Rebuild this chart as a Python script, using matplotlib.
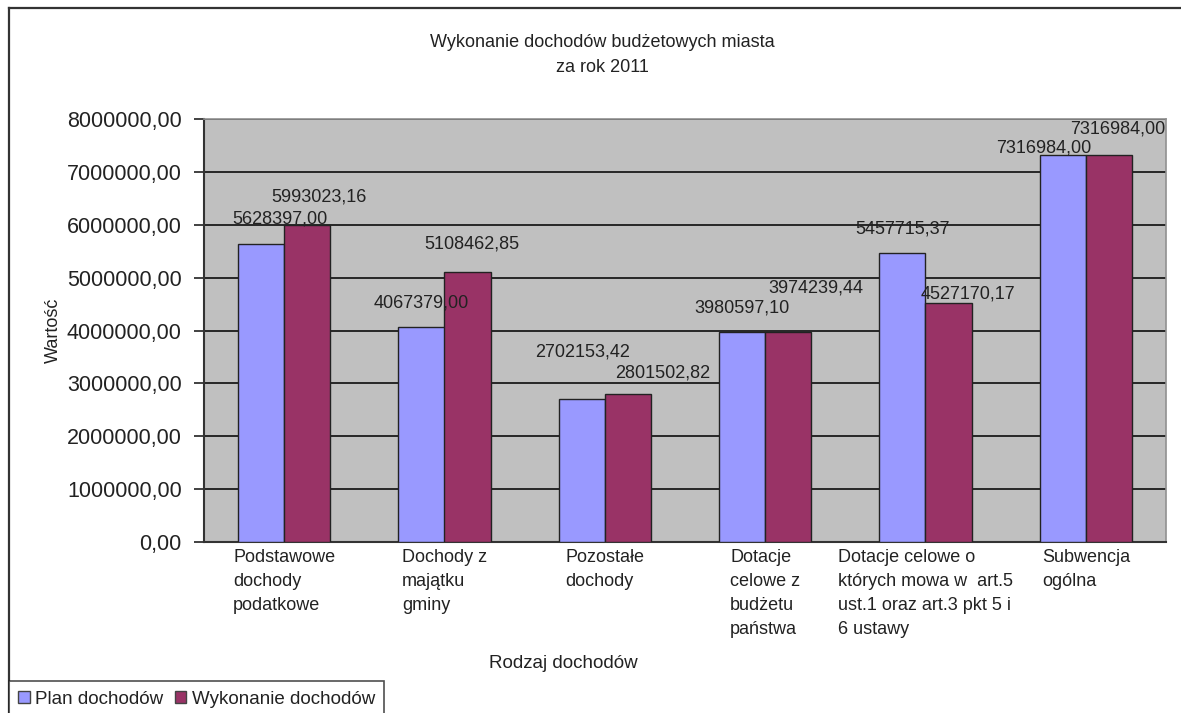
import matplotlib
matplotlib.use("Agg")
import matplotlib.pyplot as plt
from matplotlib.patches import Patch
from matplotlib.lines import Line2D

plt.rcParams['font.family'] = ['Liberation Sans', 'DejaVu Sans']

# ---- data ----
categories = [
    "Podstawowe\ndochody\npodatkowe",
    "Dochody z\nmajątku\ngminy",
    "Pozostałe\ndochody",
    "Dotacje\ncelowe z\nbudżetu\npaństwa",
    "Dotacje celowe o\nktórych mowa w  art.5\nust.1 oraz art.3 pkt 5 i\n6 ustawy",
    "Subwencja\nogólna",
]
plan = [5628397.00, 4067379.00, 2702153.42, 3980597.10, 5457715.37, 7316984.00]
wykonanie = [5993023.16, 5108462.85, 2801502.82, 3974239.44, 4527170.17, 7316984.00]
series_names = ["Plan dochodów", "Wykonanie dochodów"]
title = "Wykonanie dochodów budżetowych miasta\nza rok 2011"
yticks = [0, 1000000, 2000000, 3000000, 4000000, 5000000, 6000000, 7000000, 8000000]

# label offsets (pixels) mimicking the original label placement
plan_off = [(19, 25), (0, 24), (1, 47), (0, 24), (0, 24), (-19, 7)]
wyk_off = [(12, 28), (4, 28), (35, 21), (28, 44), (19, 9), (9, 26)]

c_plan = "#9999FF"
c_wyk = "#993366"

fig = plt.figure(figsize=(11.81, 7.13), dpi=100)
fig.patch.set_facecolor("white")
ax = fig.add_axes([204 / 1181, 1 - 542 / 713, (1166 - 204) / 1181, (542 - 119) / 713])
ax.set_facecolor("#C0C0C0")

w = 0.287
x = list(range(len(categories)))
xp = [i - w / 2 for i in x]
xw = [i + w / 2 for i in x]
ax.bar(xp, plan, width=w, color=c_plan, edgecolor="#222222", linewidth=1, zorder=3)
ax.bar(xw, wykonanie, width=w, color=c_wyk, edgecolor="#222222", linewidth=1, zorder=3)

ax.set_xlim(-0.5, len(categories) - 0.5)
ax.set_ylim(0, 8000000)
ax.set_yticks(yticks)
ax.set_yticklabels([f"{v:.2f}".replace(".", ",") for v in yticks], fontsize=15.5, color="#222222")
ax.yaxis.grid(True, color="#1a1a1a", linewidth=1.3, zorder=1)
ax.set_axisbelow(True)
ax.tick_params(axis="y", length=7, width=1.3, color="#333333", pad=9)

ax.set_xticks(x)
ax.set_xticklabels(categories, fontsize=13, color="#222222", linespacing=1.55, va="top")
for lbl in ax.get_xticklabels():
    lbl.set_multialignment("left")
ax.tick_params(axis="x", length=0, pad=5)

for s in ["top", "right"]:
    ax.spines[s].set_color("#909090")
    ax.spines[s].set_linewidth(1.2)
ax.spines["left"].set_color("#333333")
ax.spines["left"].set_linewidth(1.5)
ax.spines["bottom"].set_color("#333333")
ax.spines["bottom"].set_linewidth(1.5)

def fmt(v):
    return f"{v:.2f}".replace(".", ",")

for xi, v, (dx, dy) in zip(xp, plan, plan_off):
    ax.annotate(fmt(v), xy=(xi, v), xytext=(dx, dy), textcoords="offset pixels",
                ha="center", va="center", fontsize=13, color="#222222", zorder=5)
for xi, v, (dx, dy) in zip(xw, wykonanie, wyk_off):
    ax.annotate(fmt(v), xy=(xi, v), xytext=(dx, dy), textcoords="offset pixels",
                ha="center", va="center", fontsize=13, color="#222222", zorder=5)

ax.set_ylabel("Wartość", fontsize=13, color="#222222")
ax.yaxis.set_label_coords(-0.1476, 0.5)

fig.text(563 / 1181, 1 - 663 / 713, "Rodzaj dochodów", ha="center", va="center",
         fontsize=13.5, color="#222222")
fig.text(602 / 1181, 1 - 55 / 713, title, ha="center", va="center",
         fontsize=13, color="#222222", linespacing=1.55)

# outer chart frame
fig.add_artist(Line2D([9 / 1181, 9 / 1181], [0, 1 - 8 / 713], transform=fig.transFigure,
                      color="#333333", linewidth=1.6))
fig.add_artist(Line2D([9 / 1181, 1], [1 - 8 / 713, 1 - 8 / 713], transform=fig.transFigure,
                      color="#333333", linewidth=1.6))

handles = [Patch(facecolor=c_plan, edgecolor="#444444", linewidth=1),
           Patch(facecolor=c_wyk, edgecolor="#444444", linewidth=1)]
leg = fig.legend(handles, series_names, loc="lower left",
                 bbox_to_anchor=(9 / 1181, -4 / 713), ncol=2, frameon=True, fancybox=False,
                 fontsize=13.5, handlelength=0.6, handleheight=0.6, handletextpad=0.3,
                 columnspacing=0.6, borderpad=0.5, borderaxespad=0)
leg.get_frame().set_edgecolor("#222222")
leg.get_frame().set_linewidth(1.2)
for t in leg.get_texts():
    t.set_color("#222222")

fig.savefig("out.png", dpi=100)
